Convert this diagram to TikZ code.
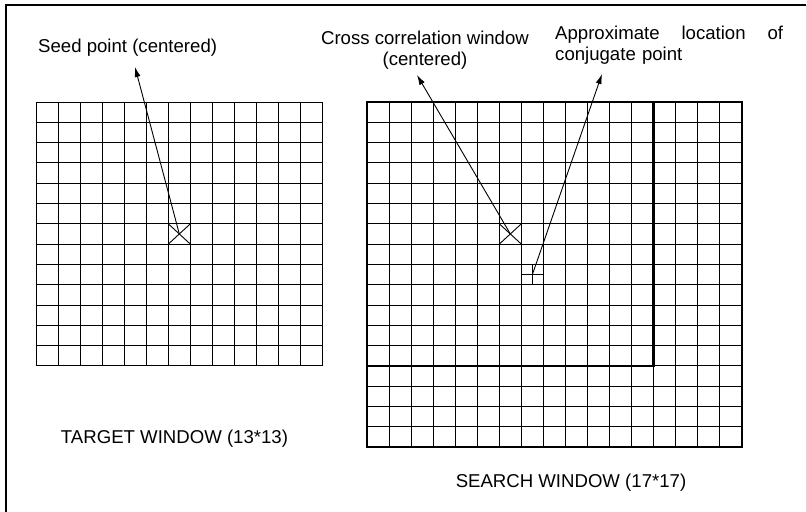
\documentclass[tikz,border=0pt]{standalone}
\usepackage{fontspec}
\setmainfont{Liberation Sans}
\usetikzlibrary{shapes.misc,arrows.meta}

\newcommand{\cellw}{22.05}
\newcommand{\cellh}{20.3}

\begin{document}
\begin{tikzpicture}[x=1pt,y=-1pt,font=\fontsize{18.6}{21.4}\selectfont]
        %
        % `cell' is used for the grid lines of both windows.
        % `window' is used for the bold 13*13 box in the search window.
        % `xmark' and `pmark' are the two markers, `pointer' the arrows.
        \tikzstyle{cell} = [draw=black,line width=1pt]
        \tikzstyle{window} = [draw=black,line width=2.6pt]
        \tikzstyle{xmark} = [draw,cross out,line width=0.9pt,minimum width=\cellw pt,minimum height=\cellh pt,inner sep=0pt,outer sep=0pt]
        \tikzstyle{pmark} = [minimum width=\cellw pt,minimum height=\cellh pt,inner sep=0pt,outer sep=0pt]
        \tikzstyle{pointer} = [line width=0.9pt,-{Latex[length=10pt,width=6pt]}]
        \tikzstyle{caption} = [inner sep=0pt]
        \useasboundingbox (0,0) rectangle (807,512);
        %
        % Frame
        \draw[line width=2pt] (6,512) -- (6,5) -- (806,5);
        \draw[black!15,line width=1pt] (806,5) -- (806,512);
        %
        % Target window
        \foreach \i in {0,...,13} {
            \draw[cell] (36+\i*\cellw,102) -- (36+\i*\cellw,102+13*\cellh);
            \draw[cell] (36,102+\i*\cellh) -- (36+13*\cellw,102+\i*\cellh);
        }
        %
        % Search window
        \foreach \i in {0,...,17} {
            \draw[cell] (367+\i*\cellw,102) -- (367+\i*\cellw,102+17*\cellh);
            \draw[cell] (367,102+\i*\cellh) -- (367+17*\cellw,102+\i*\cellh);
        }
        \draw[line width=1.3pt] (367,102) rectangle (367+17*\cellw,102+17*\cellh);
        \draw[window] (367,102) rectangle (367+13*\cellw,102+13*\cellh);
        %
        % Markers
        \node[xmark] (seed) at (36+6.5*\cellw,102+6.5*\cellh) {};
        \node[xmark] (ccw) at (367+6.5*\cellw,102+6.5*\cellh) {};
        \node[pmark] (conj) at (367+7.5*\cellw,102+8.5*\cellh) {};
        \draw[line width=0.9pt] (conj.west) -- (conj.east) (conj.north) -- (conj.south);
        %
        % Labels
        \node[caption,anchor=base west] (seedlbl) at (38,52.5) {Seed point (centered)};
        \node[caption,anchor=base,align=center] (ccwlbl) at (425,65.5) {Cross correlation window\\(centered)};
        \node[caption,anchor=base west,text width=228pt,align=left] (conjlbl) at (555,39.5) {Approximate\hfill location\hfill of\\conjugate point};
        \node[caption,anchor=base] (target) at (174.5,443) {TARGET WINDOW (13*13)};
        \node[caption,anchor=base] (search) at (571,487.3) {SEARCH WINDOW (17*17)};
        %
        % Arrows
        \coordinate (seedtip) at (135,67);
        \coordinate (ccwtip) at (417,75);
        \coordinate (conjtip) at (602,74);
        \draw[pointer] (seed.center) -- (seedtip);
        \draw[pointer] (ccw.center) -- (ccwtip);
        \draw[pointer] (conj.center) -- (conjtip);
        %
\end{tikzpicture}
\end{document}
